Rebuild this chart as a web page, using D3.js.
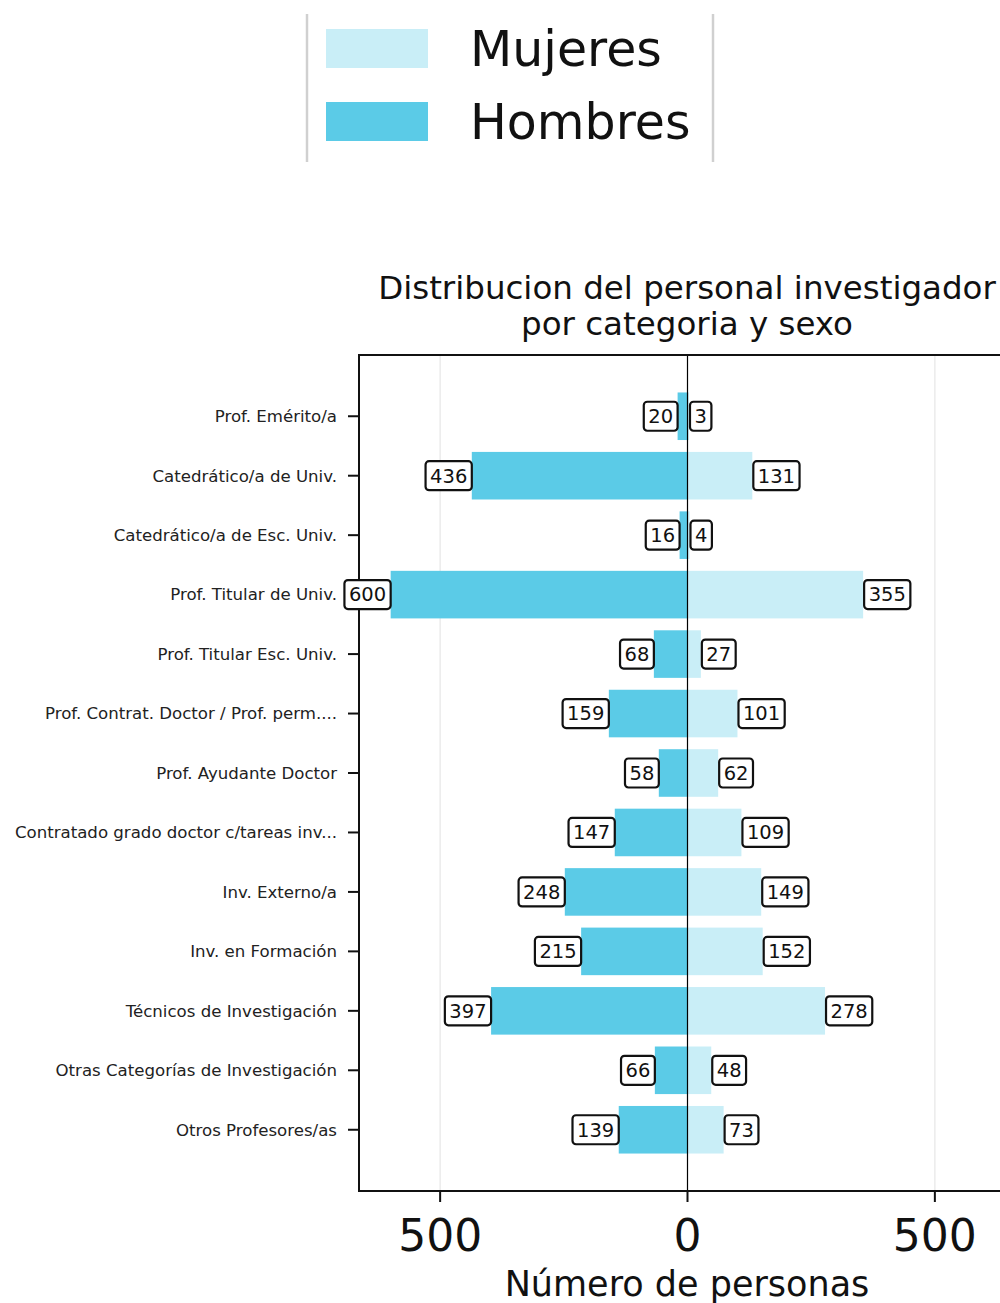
<!DOCTYPE html>
<html><head><meta charset="utf-8">
<script src="https://cdn.jsdelivr.net/npm/d3@7"></script>
<style>body{margin:0;background:#fff;}svg{display:block;font-family:"DejaVu Sans",sans-serif;}</style>
</head><body>
<script>
const categories = ["Prof. Emérito/a","Catedrático/a de Univ.","Catedrático/a de Esc. Univ.","Prof. Titular de Univ.","Prof. Titular Esc. Univ.","Prof. Contrat. Doctor  / Prof. perm....","Prof. Ayudante Doctor","Contratado grado doctor c/tareas inv...","Inv. Externo/a","Inv. en Formación","Técnicos de Investigación","Otras Categorías de Investigación","Otros Profesores/as"];
const hombres = [20,436,16,600,68,159,58,147,248,215,397,66,139];
const mujeres = [3,131,4,355,27,101,62,109,149,152,278,48,73];
const xTicks = [-500,0,500];
const xTickLabels = ["500","0","500"];
const legendLabels = ["Mujeres","Hombres"];
const colors = {Mujeres:"#c9eef7", Hombres:"#5bcbe7"};

const W=1000,H=1303;
const svg=d3.select("body").append("svg").attr("width",W).attr("height",H);
const axL=359, axT=355, axB=1191, axR=1016;
const x=d3.scaleLinear().domain([-664,664]).range([axL,axR]);
const y=d3.scaleLinear().domain([-1.03,categories.length+0.03]).range([axT,axB]);
const bh=(y(0.8)-y(0));

// grid
svg.append("g").selectAll("line").data(xTicks.filter(d=>d!==0)).join("line")
 .attr("x1",d=>x(d)).attr("x2",d=>x(d)).attr("y1",axT).attr("y2",axB)
 .attr("stroke","#ebebeb").attr("stroke-width",1.5);

// bars
svg.append("g").selectAll("rect").data(hombres).join("rect")
 .attr("x",d=>x(-d)).attr("width",d=>x(0)-x(-d)).attr("y",(d,i)=>y(i)-bh/2).attr("height",bh)
 .attr("fill",colors.Hombres);
svg.append("g").selectAll("rect").data(mujeres).join("rect")
 .attr("x",x(0)).attr("width",d=>x(d)-x(0)).attr("y",(d,i)=>y(i)-bh/2).attr("height",bh)
 .attr("fill",colors.Mujeres);

// zero line
svg.append("line").attr("x1",x(0)).attr("x2",x(0)).attr("y1",axT).attr("y2",axB).attr("stroke","#000").attr("stroke-width",1.2);

// spines
svg.append("path").attr("d",`M${axR},${axT}H${axL}V${axB}H${axR}`).attr("fill","none").attr("stroke","#111").attr("stroke-width",2);

// y axis ticks
const yg=svg.append("g");
categories.forEach((c,i)=>{
  yg.append("line").attr("x1",axL-11).attr("x2",axL).attr("y1",y(i)).attr("y2",y(i)).attr("stroke","#111").attr("stroke-width",2);
  yg.append("text").attr("x",axL-22).attr("y",y(i)).attr("dy","0.35em").attr("text-anchor","end")
    .attr("font-size",16.6).attr("fill","#222").text(c);
});
// x axis ticks
xTicks.forEach((t,i)=>{
  svg.append("line").attr("x1",x(t)).attr("x2",x(t)).attr("y1",axB).attr("y2",axB+11).attr("stroke","#111").attr("stroke-width",2);
  svg.append("text").attr("x",x(t)).attr("y",1251).attr("text-anchor","middle").attr("font-size",44).attr("fill","#111").text(xTickLabels[i]);
});
svg.append("text").attr("x",687).attr("y",1296).attr("text-anchor","middle").attr("font-size",35).attr("fill","#111").text("Número de personas");

// title
svg.append("text").attr("x",687).attr("y",299).attr("text-anchor","middle").attr("font-size",32.5).attr("fill","#111").text("Distribucion del personal investigador");
svg.append("text").attr("x",687).attr("y",335).attr("text-anchor","middle").attr("font-size",32.5).attr("fill","#111").text("por categoria y sexo");

// value labels
function label(val,i,side){
  const g=svg.append("g");
  const t=g.append("text").attr("font-size",19.5).attr("fill","#111").attr("dy","0.35em").text(val);
  const w=t.node().getComputedTextLength();
  const pad=4.5;
  const bw=w+2*pad, bhh=29;
  let bx = side<0 ? x(-val)-bw : x(val)+1;
  g.insert("rect","text").attr("x",bx).attr("y",y(i)-bhh/2).attr("width",bw).attr("height",bhh)
    .attr("rx",3.5).attr("fill","#fff").attr("stroke","#111").attr("stroke-width",2.2);
  t.attr("x",bx+pad).attr("y",y(i));
}
hombres.forEach((v,i)=>label(v,i,-1));
mujeres.forEach((v,i)=>label(v,i,1));

// legend
svg.append("line").attr("x1",307).attr("x2",307).attr("y1",14).attr("y2",162).attr("stroke","#d0d0d0").attr("stroke-width",2.5);
svg.append("line").attr("x1",713).attr("x2",713).attr("y1",14).attr("y2",162).attr("stroke","#d0d0d0").attr("stroke-width",2.5);
legendLabels.forEach((l,i)=>{
  svg.append("rect").attr("x",326).attr("y",29+i*73).attr("width",102).attr("height",39).attr("fill",colors[l]);
  svg.append("text").attr("x",470).attr("y",66+i*73).attr("font-size",49).attr("fill","#111").text(l);
});
</script>
</body></html>
